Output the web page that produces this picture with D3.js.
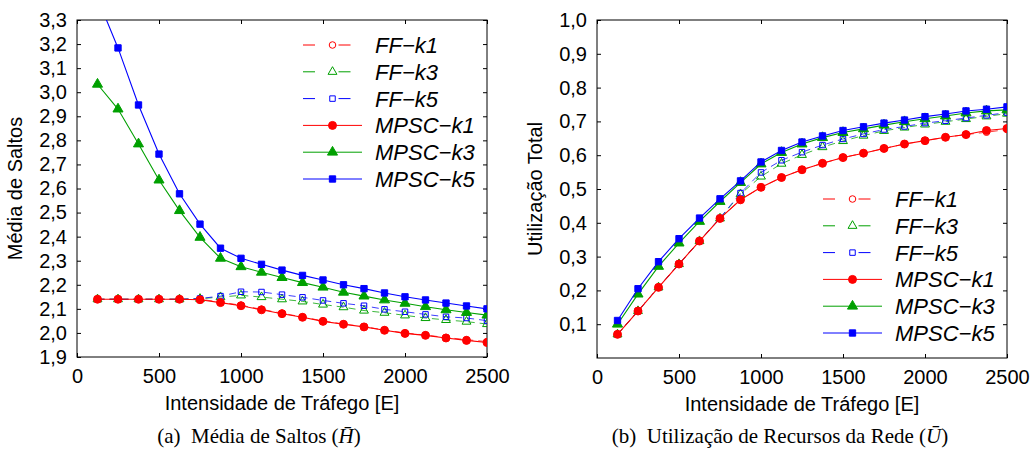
<!DOCTYPE html>
<html>
<head>
<meta charset="utf-8">
<script src="https://cdn.jsdelivr.net/npm/d3@7"></script>
<style>
  body { margin: 0; background: #fff; }
  text { font-family: "Liberation Sans", Arial, sans-serif; }
</style>
</head>
<body>
<svg id="chart" width="1034" height="452"></svg>
<script>
// x values (traffic intensity, Erlang)
const traffic = [125, 250, 375, 500, 625, 750, 875, 1000, 1125, 1250,
                 1375, 1500, 1625, 1750, 1875, 2000, 2125, 2250, 2375, 2500];

// (a) average hop count
const hopsFFk1   = [2.14, 2.14, 2.14, 2.14, 2.14, 2.14, 2.128, 2.115, 2.098, 2.082, 2.066, 2.05, 2.037, 2.026, 2.012, 2.0, 1.991, 1.981, 1.972, 1.964];
const hopsFFk3   = [2.14, 2.14, 2.14, 2.14, 2.14, 2.142, 2.149, 2.156, 2.149, 2.14, 2.131, 2.118, 2.107, 2.093, 2.084, 2.073, 2.062, 2.054, 2.047, 2.037];
const hopsFFk5   = [2.14, 2.14, 2.14, 2.14, 2.14, 2.143, 2.153, 2.171, 2.17, 2.159, 2.148, 2.135, 2.123, 2.113, 2.098, 2.088, 2.077, 2.067, 2.062, 2.051];
const hopsMPSCk1 = [2.14, 2.14, 2.14, 2.14, 2.14, 2.138, 2.126, 2.113, 2.096, 2.08, 2.065, 2.048, 2.036, 2.025, 2.011, 1.998, 1.99, 1.979, 1.969, 1.96];
const hopsMPSCk3 = [3.033, 2.93, 2.785, 2.635, 2.508, 2.397, 2.31, 2.275, 2.252, 2.23, 2.209, 2.19, 2.169, 2.153, 2.137, 2.123, 2.109, 2.096, 2.085, 2.074];
const hopsMPSCk5 = [3.39, 3.184, 2.947, 2.743, 2.578, 2.452, 2.352, 2.31, 2.285, 2.261, 2.239, 2.22, 2.2, 2.184, 2.166, 2.15, 2.137, 2.124, 2.112, 2.1];

// (b) total utilisation
const utilFFk1   = [0.07, 0.139, 0.209, 0.278, 0.346, 0.413, 0.468, 0.505, 0.534, 0.557, 0.576, 0.593, 0.606, 0.62, 0.633, 0.643, 0.653, 0.661, 0.668, 0.676];
const utilFFk3   = [0.07, 0.139, 0.209, 0.278, 0.346, 0.413, 0.485, 0.537, 0.575, 0.601, 0.624, 0.642, 0.658, 0.672, 0.682, 0.691, 0.699, 0.707, 0.715, 0.723];
const utilFFk5   = [0.07, 0.139, 0.209, 0.278, 0.346, 0.414, 0.488, 0.549, 0.585, 0.609, 0.63, 0.648, 0.663, 0.676, 0.685, 0.695, 0.702, 0.71, 0.718, 0.726];
const utilMPSCk1 = [0.07, 0.139, 0.209, 0.278, 0.346, 0.413, 0.468, 0.505, 0.534, 0.557, 0.576, 0.593, 0.606, 0.62, 0.633, 0.643, 0.653, 0.661, 0.673, 0.679];
const utilMPSCk3 = [0.1, 0.189, 0.271, 0.34, 0.404, 0.463, 0.519, 0.574, 0.608, 0.633, 0.652, 0.667, 0.678, 0.689, 0.699, 0.708, 0.716, 0.725, 0.731, 0.734];
const utilMPSCk5 = [0.111, 0.205, 0.285, 0.353, 0.414, 0.471, 0.524, 0.58, 0.614, 0.639, 0.657, 0.673, 0.684, 0.695, 0.704, 0.714, 0.722, 0.731, 0.736, 0.743];

const seriesNames = ["FF\u2212k1", "FF\u2212k3", "FF\u2212k5", "MPSC\u2212k1", "MPSC\u2212k3", "MPSC\u2212k5"];
const hopTicks = [1.9, 2.0, 2.1, 2.2, 2.3, 2.4, 2.5, 2.6, 2.7, 2.8, 2.9, 3.0, 3.1, 3.2, 3.3];
const utilTicks = [0.1, 0.2, 0.3, 0.4, 0.5, 0.6, 0.7, 0.8, 0.9, 1.0];
const xTicks = [0, 500, 1000, 1500, 2000, 2500];

const red = "#ff0000", green = "#00a000", blue = "#0000ff";
const styles = [
  { color: red,   symbol: d3.symbolCircle,   filled: false, dashed: true,  size: 34 },
  { color: green, symbol: d3.symbolTriangle, filled: false, dashed: true,  size: 34 },
  { color: blue,  symbol: d3.symbolSquare,   filled: false, dashed: true,  size: 30 },
  { color: red,   symbol: d3.symbolCircle,   filled: true,  dashed: false, size: 50 },
  { color: green, symbol: d3.symbolTriangle, filled: true,  dashed: false, size: 44 },
  { color: blue,  symbol: d3.symbolSquare,   filled: true,  dashed: false, size: 40 }
];

const comma = d3.formatLocale({ decimal: ",", thousands: ".", grouping: [3], currency: ["", ""] });
const fmt1 = comma.format(".1f");

const svg = d3.select("#chart");

function panel(opts) {
  const { id, left, right, top, bottom, yDomain, yTicks, series, yLabel, legendX, legendY, caption, captionX } = opts;
  const x = d3.scaleLinear().domain([0, 2500]).range([left, right]);
  const y = d3.scaleLinear().domain(yDomain).range([bottom, top]);
  const g = svg.append("g");

  g.append("clipPath").attr("id", id)
    .append("rect").attr("x", left).attr("y", top)
    .attr("width", right - left).attr("height", bottom - top);

  // axes with inward ticks on all four sides
  const axisStyle = sel => {
    sel.selectAll(".domain").remove();
    sel.selectAll("line").attr("stroke", "#000");
    sel.selectAll("text").attr("font-size", 20).attr("fill", "#000");
  };
  g.append("g").attr("transform", `translate(0,${bottom})`)
    .call(d3.axisBottom(x).tickValues(xTicks).tickSizeInner(-4).tickSizeOuter(0).tickPadding(12).tickFormat(d3.format("d")))
    .call(axisStyle);
  g.append("g").attr("transform", `translate(0,${top})`)
    .call(d3.axisTop(x).tickValues(xTicks).tickSizeInner(-4).tickSizeOuter(0).tickFormat(""))
    .call(axisStyle);
  g.append("g").attr("transform", `translate(${left},0)`)
    .call(d3.axisLeft(y).tickValues(yTicks).tickSizeInner(-4).tickSizeOuter(0).tickPadding(10).tickFormat(fmt1))
    .call(axisStyle);
  g.append("g").attr("transform", `translate(${right},0)`)
    .call(d3.axisRight(y).tickValues(yTicks).tickSizeInner(-4).tickSizeOuter(0).tickFormat(""))
    .call(axisStyle);
  g.append("rect").attr("x", left).attr("y", top)
    .attr("width", right - left).attr("height", bottom - top)
    .attr("fill", "none").attr("stroke", "#000").attr("stroke-width", 1);

  const plot = g.append("g").attr("clip-path", `url(#${id})`);
  const line = d3.line().x((d, i) => x(traffic[i])).y(d => y(d));

  series.forEach((vals, k) => {
    const s = styles[k];
    plot.append("path").datum(vals)
      .attr("d", line)
      .attr("fill", "none")
      .attr("stroke", s.color)
      .attr("stroke-width", s.dashed ? 0.9 : 1.1)
      .attr("stroke-opacity", s.dashed ? 0.85 : 1)
      .attr("stroke-dasharray", s.dashed ? "7,5" : null);
    plot.selectAll(null).data(vals).enter().append("path")
      .attr("d", d3.symbol().type(s.symbol).size(s.size))
      .attr("transform", (d, i) => `translate(${x(traffic[i])},${y(d)})`)
      .attr("fill", s.filled ? s.color : "none")
      .attr("stroke", s.color)
      .attr("stroke-width", 1);
  });

  // legend
  const rowH = 26.8;
  seriesNames.forEach((name, k) => {
    const s = styles[k];
    const ly = legendY + k * rowH;
    const lg = g.append("g");
    lg.append("line")
      .attr("x1", legendX).attr("x2", legendX + 59)
      .attr("y1", ly).attr("y2", ly)
      .attr("stroke", s.color).attr("stroke-width", 1)
      .attr("stroke-dasharray", s.dashed ? "12,23.5,12" : null);
    lg.append("path")
      .attr("d", d3.symbol().type(s.symbol).size(s.size))
      .attr("transform", `translate(${legendX + 29.5},${ly})`)
      .attr("fill", s.filled ? s.color : "none")
      .attr("stroke", s.color).attr("stroke-width", 1);
    lg.append("text")
      .attr("x", legendX + 72).attr("y", ly + 8)
      .attr("font-size", 22).attr("font-style", "italic")
      .text(name);
  });

  // axis titles
  g.append("text")
    .attr("x", (left + right) / 2).attr("y", bottom + 53)
    .attr("text-anchor", "middle").attr("font-size", 20)
    .text("Intensidade de Tráfego [E]");
  g.append("text")
    .attr("transform", `translate(${left - 55},${(top + bottom) / 2}) rotate(-90)`)
    .attr("text-anchor", "middle").attr("font-size", 20)
    .text(yLabel);

  // caption
  const cap = g.append("text")
    .attr("x", captionX).attr("y", 443)
    .attr("text-anchor", "middle")
    .style("font-family", "'Liberation Serif', 'Times New Roman', serif")
    .style("white-space", "pre")
    .attr("font-size", 21);
  cap.append("tspan").text(caption[0]);
  cap.append("tspan").attr("font-style", "italic").text(caption[1]);
  cap.append("tspan").text(")");
}

panel({
  id: "clipA", left: 77, right: 487, top: 20, bottom: 357,
  yDomain: [1.9, 3.3], yTicks: hopTicks,
  series: [hopsFFk1, hopsFFk3, hopsFFk5, hopsMPSCk1, hopsMPSCk3, hopsMPSCk5],
  yLabel: "Média de Saltos", legendX: 303, legendY: 45,
  caption: ["(a)  Média de Saltos (", "H\u0304"], captionX: 259
});

panel({
  id: "clipB", left: 597, right: 1007, top: 20, bottom: 358,
  yDomain: [0, 1], yTicks: utilTicks,
  series: [utilFFk1, utilFFk3, utilFFk5, utilMPSCk1, utilMPSCk3, utilMPSCk5],
  yLabel: "Utilização Total", legendX: 823, legendY: 199,
  caption: ["(b)  Utilização de Recursos da Rede (", "U\u0304"], captionX: 780
});
</script>
</body>
</html>
